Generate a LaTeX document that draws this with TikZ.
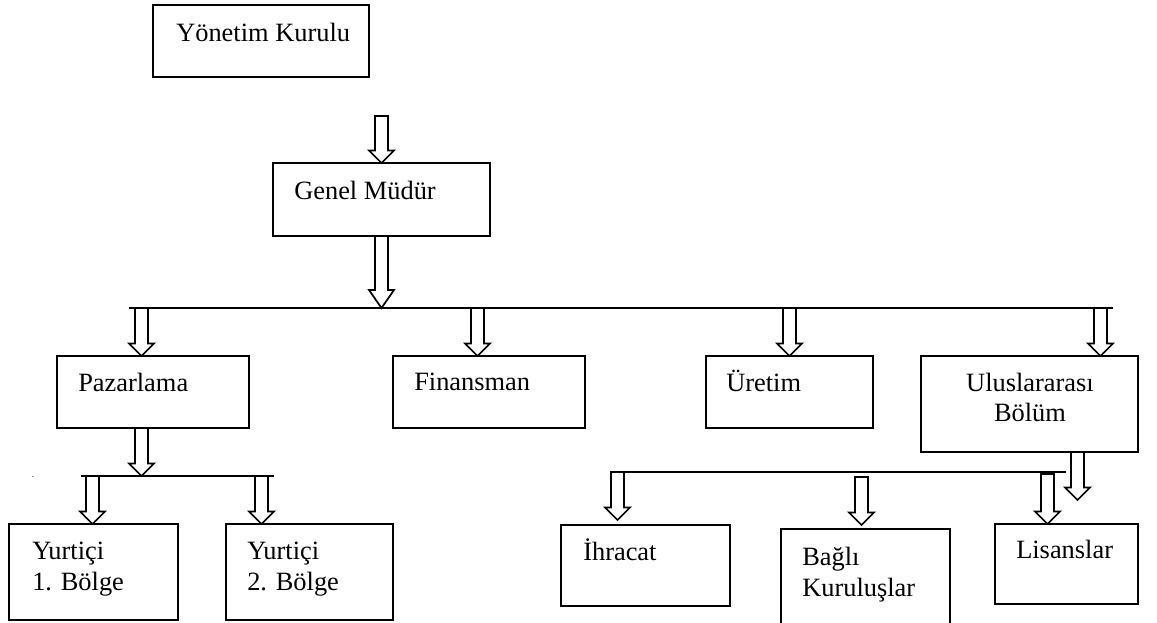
\documentclass[tikz,border=0pt]{standalone}
\usepackage{fontspec}
\setmainfont{Liberation Serif}
\usetikzlibrary{calc}

% hollow block arrow: [head length]{top}{tip}
\newcommand\blockarrow[3][9.375pt]{%
  \draw[hollow] let \p1=(#2), \p2=(#3) in
    (\x1-4.875pt,\y1) -- (\x1-4.875pt,\y2+#1) -- (\x1-9.375pt,\y2+#1) --
    (\x1,\y2) -- (\x1+9.375pt,\y2+#1) -- (\x1+4.875pt,\y2+#1) --
    (\x1+4.875pt,\y1) -- cycle;}

% rectangle given by its two corners
\newcommand\orgbox[5]{%
  \node[box, minimum width={(#4-#2)*0.75pt}, minimum height={(#5-#3)*0.75pt}]
    (#1) at (#2,#3) {};}

\tikzset{
  box/.style={draw, line width=1.3pt, inner sep=0pt, outer sep=0pt, anchor=north west},
  lbl/.style={inner sep=0pt, anchor=base west, align=left,
              font=\fontsize{19.8}{22.9}\selectfont},
  bus/.style={line width=1.3pt},
  hollow/.style={draw, line width=1.3pt, fill=white, line join=miter},
}

\begin{document}
\begin{tikzpicture}[x=0.75pt,y=-0.75pt]
\useasboundingbox (0,0) rectangle (1157,623);
\clip (0,0) rectangle (1157,623);

% boxes
\orgbox{yk}{153}{5}{369}{77}
\orgbox{gm}{273}{163}{490}{236}
\orgbox{paz}{57}{356}{249}{428}
\orgbox{fin}{393}{356}{585}{428}
\orgbox{ure}{706}{356}{873}{428}
\orgbox{ulus}{921}{356}{1138}{452}
\orgbox{yb1}{9}{524}{178}{620}
\orgbox{yb2}{226}{524}{393}{620}
\orgbox{ihr}{561}{525}{730}{606}
\orgbox{bag}{781}{529}{950}{645}
\orgbox{lis}{995}{524}{1138}{604}

% labels (multi-line labels are placed by their last baseline)
\node[lbl] (yk-t) at (176,42) {Yönetim Kurulu};
\node[lbl] (gm-t) at (294,200) {Genel Müdür};
\node[lbl] (paz-t) at (78,392) {Pazarlama};
\node[lbl] (fin-t) at (414,391) {Finansman};
\node[lbl] (ure-t) at (726,392) {Üretim};
\node[lbl, anchor=base, align=center] (ulus-t) at (1030,422) {Uluslararası\\Bölüm};
\node[lbl] (yb1-t) at (32,590) {Yurtiçi\\1. Bölge};
\node[lbl] (yb2-t) at (247,590) {Yurtiçi\\2. Bölge};
\node[lbl] (ihr-t) at (583,560) {İhracat};
\node[lbl] (bag-t) at (802,596) {Bağlı\\Kuruluşlar};
\node[lbl] (lis-t) at (1016,558) {Lisanslar};
\node[inner sep=0pt, anchor=base, font=\fontsize{7}{8}\selectfont] (dot) at (33,478) {.};

% distribution bars
\coordinate (bar1l) at (129,308);
\coordinate (bar1r) at (1113,308);
\coordinate (bar2l) at (81,476);
\coordinate (bar2r) at (274,476);
\coordinate (bar3l) at (610,472);
\coordinate (bar3r) at (1066,472);
\draw[bus] (bar1l) -- (bar1r);
\draw[bus] (bar2l) -- (bar2r);
\draw[bus] (bar3l) -- (bar3r);

% arrow start points
\coordinate (s-gm) at (381.5,116);
\coordinate (s-paz) at (141.5,308);
\coordinate (s-fin) at (477.5,308);
\coordinate (s-ure) at (789.5,308);
\coordinate (s-ulus) at (1100.5,308);
\coordinate (s-bar2) at (141.5,428);
\coordinate (s-yb1) at (92.5,476);
\coordinate (s-yb2) at (261.5,476);
\coordinate (s-ihr) at (617.5,472);
\coordinate (s-bag) at (861.5,477);
\coordinate (s-lis) at (1047.5,474);
\coordinate (s-ulusd) at (1077.5,452);
\coordinate (e-ulusd) at (1077.5,500);
\coordinate (e-ihr) at (617.5,520);
\coordinate (e-bag) at (861.5,525);

% arrows
\blockarrow{s-gm}{gm.north}
\blockarrow[13.5pt]{gm.south}{s-gm |- bar1l}
\blockarrow{s-paz}{s-paz |- paz.north}
\blockarrow{s-fin}{s-fin |- fin.north}
\blockarrow{s-ure}{s-ure |- ure.north}
\blockarrow{s-ulus}{s-ulus |- ulus.north}
\blockarrow{s-bar2 |- paz.south}{s-bar2 |- bar2l}
\blockarrow{s-yb1}{s-yb1 |- yb1.north}
\blockarrow{s-yb2}{s-yb2 |- yb2.north}
\blockarrow{s-ihr}{e-ihr}
\blockarrow{s-bag}{e-bag}
\blockarrow{s-lis}{s-lis |- lis.north}
\blockarrow{s-ulusd |- ulus.south}{e-ulusd}
\end{tikzpicture}
\end{document}
